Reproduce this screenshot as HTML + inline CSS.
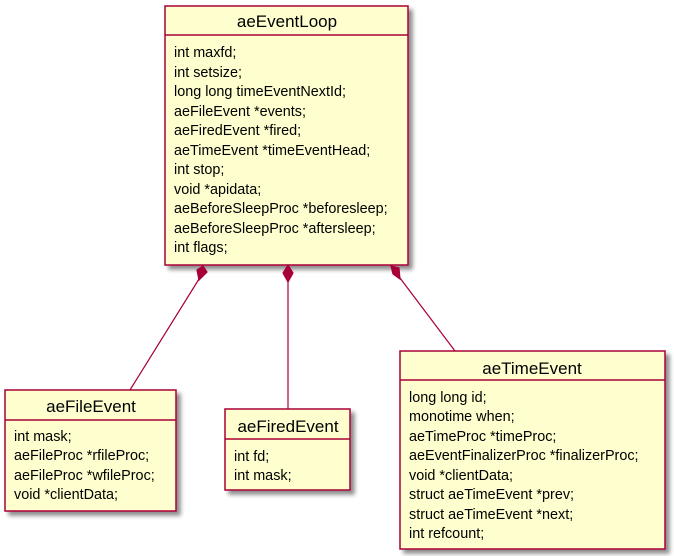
<!DOCTYPE html>
<html><head><style>
html,body{margin:0;padding:0;background:#fff;}
svg{display:block;}
text{font-family:"Liberation Sans",sans-serif;fill:#000;}
</style></head><body>
<svg width="674" height="556" viewBox="0 0 674 556" xmlns="http://www.w3.org/2000/svg">
<defs>
<filter id="sh" x="-10%" y="-10%" width="130%" height="130%">
<feGaussianBlur in="SourceAlpha" stdDeviation="2"/>
<feOffset dx="4" dy="4" result="b"/>
<feComponentTransfer><feFuncA type="linear" slope="0.45"/></feComponentTransfer>
<feMerge><feMergeNode/><feMergeNode in="SourceGraphic"/></feMerge>
</filter>
</defs>
<g stroke="#A80036" stroke-width="1.5" fill="#FEFECE">
<rect x="165" y="6" width="243" height="259" filter="url(#sh)"/>
<line x1="165" y1="35" x2="408" y2="35"/>
<rect x="5" y="390" width="171" height="121" filter="url(#sh)"/>
<line x1="5" y1="420" x2="176" y2="420"/>
<rect x="225" y="409" width="125" height="81" filter="url(#sh)"/>
<line x1="225" y1="439" x2="350" y2="439"/>
<rect x="400" y="351" width="265" height="198" filter="url(#sh)"/>
<line x1="400" y1="380" x2="665" y2="380"/>
</g>
<g stroke="#A80036" stroke-width="1.2" fill="#A80036">
<line x1="199" y1="279" x2="130" y2="390"/>
<polygon points="203,266 207,272 199,280 197,270"/>
<line x1="288" y1="282" x2="288" y2="409"/>
<polygon points="288,265 293,273 288,282 283,273"/>
<line x1="400" y1="278" x2="455" y2="351"/>
<polygon points="391,266 399,268 400,279 393,274"/>
</g>
<g font-size="17" text-anchor="middle">
<text x="287" y="27">aeEventLoop</text>
<text x="91" y="412">aeFileEvent</text>
<text x="288" y="432">aeFiredEvent</text>
<text x="532" y="374">aeTimeEvent</text>
</g>
<g font-size="14.4">
<text x="174" y="57">int maxfd;</text>
<text x="174" y="77">int setsize;</text>
<text x="174" y="96">long long timeEventNextId;</text>
<text x="174" y="116">aeFileEvent *events;</text>
<text x="174" y="135">aeFiredEvent *fired;</text>
<text x="174" y="155">aeTimeEvent *timeEventHead;</text>
<text x="174" y="174">int stop;</text>
<text x="174" y="194">void *apidata;</text>
<text x="174" y="213">aeBeforeSleepProc *beforesleep;</text>
<text x="174" y="233">aeBeforeSleepProc *aftersleep;</text>
<text x="174" y="252">int flags;</text>

<text x="14" y="441">int mask;</text>
<text x="14" y="460">aeFileProc *rfileProc;</text>
<text x="14" y="480">aeFileProc *wfileProc;</text>
<text x="14" y="499">void *clientData;</text>

<text x="234" y="461">int fd;</text>
<text x="234" y="480">int mask;</text>

<text x="409" y="402">long long id;</text>
<text x="409" y="421">monotime when;</text>
<text x="409" y="441">aeTimeProc *timeProc;</text>
<text x="409" y="460">aeEventFinalizerProc *finalizerProc;</text>
<text x="409" y="480">void *clientData;</text>
<text x="409" y="499">struct aeTimeEvent *prev;</text>
<text x="409" y="519">struct aeTimeEvent *next;</text>
<text x="409" y="538">int refcount;</text>
</g>
</svg>
</body></html>
